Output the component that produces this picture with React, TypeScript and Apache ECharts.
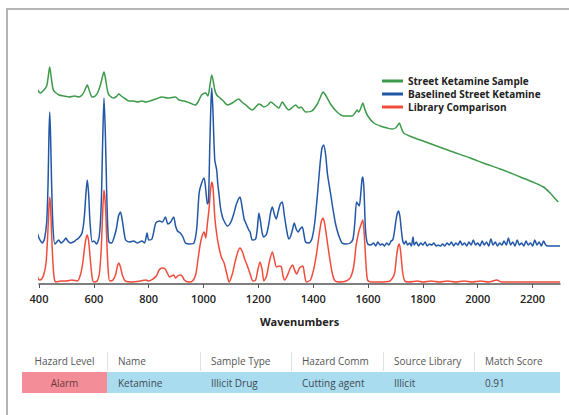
import React, { useEffect, useRef } from "react";
import * as echarts from "echarts";

// Raman spectra: [wavenumber (cm-1), stacked intensity]
const WAVE_TICKS = [400, 600, 800, 1000, 1200, 1400, 1600, 1800, 2000, 2200];

const SAMPLE: [number, number][] = [
  [382, 192], [390, 196], [400, 192], [406, 191], [418, 194], [428, 198], [434, 208], [439, 217], [444, 208],
  [451, 195], [458, 192], [473, 189], [490, 188], [510, 187], [530, 188], [545, 187], [557, 189], [566, 193],
  [576, 199], [584, 193], [594, 187], [605, 188], [615, 192], [625, 200], [632, 208], [637, 212], [642, 206],
  [650, 193], [655, 189], [673, 186], [684, 188], [691, 190], [700, 188], [716, 185], [728, 183], [745, 183],
  [760, 182], [775, 183], [790, 182], [805, 183], [826, 185], [849, 187], [870, 186], [898, 187], [910, 184],
  [930, 183], [950, 181], [970, 179], [980, 182], [993, 189], [1008, 191], [1016, 188], [1024, 200], [1030, 209],
  [1036, 202], [1041, 194], [1048, 189], [1056, 187], [1069, 184], [1087, 179], [1105, 181], [1128, 185],
  [1140, 182], [1154, 179], [1178, 174], [1190, 177], [1202, 180], [1210, 179], [1220, 177], [1235, 179],
  [1245, 182], [1260, 179], [1275, 176], [1287, 182], [1300, 177], [1311, 174], [1325, 177], [1336, 179],
  [1348, 176], [1356, 177], [1372, 172], [1395, 173], [1415, 180], [1428, 188], [1436, 192], [1445, 189],
  [1463, 180], [1487, 172], [1511, 168], [1530, 168], [1542, 168], [1555, 172], [1560, 174], [1566, 172],
  [1575, 177], [1581, 181], [1588, 175], [1599, 168], [1621, 161], [1645, 158], [1670, 156], [1688, 155],
  [1700, 156], [1709, 159], [1714, 161], [1720, 157], [1730, 151], [1760, 147], [1791, 144], [1850, 138],
  [1900, 133], [1973, 126], [2020, 121], [2082, 115], [2120, 111], [2155, 107], [2200, 102], [2240, 97],
  [2264, 91], [2280, 86], [2294, 82],
];

const BASELINED: [number, number][] = [
  [382, 42], [386, 50], [390, 56], [395, 50], [400, 46], [406, 43], [412, 41], [420, 45], [428, 62], [433, 100],
  [436, 145], [439, 172], [442, 150], [446, 100], [451, 57], [458, 40], [465, 42], [472, 44], [480, 41], [490, 43],
  [498, 46], [505, 43], [515, 41], [525, 42], [535, 44], [545, 46], [557, 51], [565, 66], [571, 90], [576, 104],
  [581, 90], [586, 62], [594, 42], [600, 43], [610, 40], [620, 48], [627, 80], [632, 140], [637, 186], [642, 150],
  [647, 90], [651, 55], [655, 42], [665, 41], [673, 46], [682, 55], [690, 68], [697, 72], [703, 65], [710, 52],
  [716, 44], [730, 42], [745, 43], [760, 41], [775, 43], [785, 41], [794, 51], [800, 44], [812, 45], [826, 61],
  [840, 63], [850, 62], [861, 67], [870, 60], [880, 62], [891, 67], [898, 58], [905, 53], [915, 51], [925, 47],
  [934, 41], [950, 40], [965, 41], [975, 55], [984, 91], [992, 100], [1002, 106], [1008, 95], [1014, 80],
  [1018, 82], [1023, 140], [1027, 180], [1030, 196], [1034, 175], [1041, 124], [1048, 114], [1052, 100],
  [1056, 91], [1062, 76], [1069, 67], [1075, 63], [1087, 58], [1100, 62], [1110, 70], [1120, 80], [1133, 87],
  [1140, 78], [1148, 65], [1154, 61], [1165, 54], [1170, 52], [1178, 44], [1190, 45], [1196, 55], [1202, 71],
  [1208, 62], [1214, 51], [1220, 47], [1230, 50], [1238, 60], [1245, 72], [1251, 77], [1258, 70], [1265, 65],
  [1272, 72], [1280, 80], [1287, 82], [1295, 68], [1305, 51], [1311, 45], [1318, 48], [1325, 55], [1331, 61],
  [1338, 55], [1345, 52], [1352, 55], [1360, 57], [1366, 50], [1372, 42], [1385, 41], [1395, 45], [1405, 60],
  [1415, 88], [1425, 120], [1432, 136], [1438, 139], [1445, 130], [1452, 110], [1463, 91], [1472, 75],
  [1480, 62], [1487, 54], [1495, 47], [1505, 41], [1520, 40], [1535, 41], [1545, 45], [1552, 62], [1558, 82],
  [1563, 80], [1568, 78], [1574, 92], [1578, 105], [1581, 107], [1585, 95], [1590, 57], [1594, 45], [1599, 40],
  [1610, 39], [1620, 41], [1628, 38], [1636, 42], [1644, 39], [1652, 40], [1660, 38], [1668, 41], [1676, 39],
  [1684, 43], [1690, 44], [1696, 52], [1702, 64], [1707, 71], [1711, 73], [1716, 68], [1721, 55], [1726, 44],
  [1732, 40], [1738, 43], [1744, 39], [1752, 41], [1758, 38], [1764, 47], [1768, 39], [1776, 42], [1784, 38],
  [1792, 41], [1800, 39], [1808, 42], [1816, 38], [1824, 40], [1832, 39], [1840, 41], [1848, 38], [1856, 39],
  [1864, 38], [1872, 40], [1880, 38], [1888, 41], [1896, 39], [1904, 42], [1912, 38], [1920, 41], [1928, 39],
  [1936, 43], [1944, 39], [1952, 41], [1960, 38], [1968, 42], [1976, 39], [1984, 44], [1992, 39], [2000, 41],
  [2008, 38], [2016, 43], [2024, 39], [2032, 42], [2040, 38], [2048, 45], [2056, 39], [2064, 42], [2072, 38],
  [2080, 41], [2088, 39], [2096, 43], [2104, 39], [2112, 46], [2120, 39], [2128, 42], [2136, 38], [2144, 44],
  [2152, 39], [2160, 41], [2168, 38], [2176, 43], [2184, 39], [2192, 41], [2200, 38], [2208, 44], [2216, 39],
  [2224, 42], [2232, 38], [2240, 43], [2248, 39], [2256, 38], [2300, 38],
];

const LIBRARY: [number, number][] = [
  [382, 2], [386, 6], [390, 11], [396, 6], [402, 4], [410, 5], [418, 10], [426, 22], [432, 50], [436, 75],
  [439, 87], [442, 78], [446, 50], [451, 20], [456, 5], [462, 2], [480, 3], [500, 3], [520, 4], [540, 3],
  [552, 10], [560, 22], [566, 36], [571, 45], [576, 49], [581, 43], [587, 25], [594, 6], [600, 2], [612, 3],
  [620, 10], [627, 35], [632, 70], [637, 94], [642, 80], [647, 45], [652, 15], [658, 3], [670, 4], [680, 10],
  [686, 18], [691, 21], [697, 17], [705, 8], [715, 3], [740, 2], [770, 3], [790, 4], [800, 3], [815, 5],
  [828, 8], [838, 14], [849, 16], [860, 15], [868, 11], [876, 7], [884, 8], [891, 9], [898, 6], [906, 8],
  [914, 9], [922, 8], [930, 4], [945, 2], [960, 3], [972, 10], [980, 25], [988, 40], [995, 48], [1002, 52],
  [1008, 46], [1014, 60], [1020, 75], [1026, 95], [1030, 102], [1035, 95], [1041, 67], [1048, 50], [1056, 37],
  [1065, 27], [1075, 21], [1085, 10], [1093, 2], [1105, 10], [1115, 22], [1125, 32], [1133, 36], [1142, 32],
  [1150, 25], [1160, 18], [1170, 10], [1180, 3], [1190, 4], [1198, 14], [1206, 22], [1214, 14], [1220, 3],
  [1230, 8], [1240, 22], [1251, 32], [1258, 25], [1266, 17], [1278, 18], [1284, 17], [1290, 8], [1296, 4],
  [1305, 8], [1315, 15], [1325, 19], [1332, 14], [1340, 10], [1350, 16], [1362, 18], [1368, 10], [1375, 2],
  [1390, 4], [1402, 15], [1412, 30], [1422, 50], [1430, 63], [1436, 66], [1442, 60], [1450, 45], [1460, 26],
  [1470, 10], [1480, 3], [1500, 2], [1520, 3], [1535, 6], [1548, 18], [1556, 38], [1560, 44], [1566, 52],
  [1575, 60], [1581, 64], [1586, 50], [1592, 22], [1598, 4], [1610, 2], [1640, 2], [1680, 3], [1696, 10],
  [1704, 28], [1710, 38], [1714, 40], [1719, 32], [1726, 12], [1734, 3], [1750, 2], [1780, 3], [1800, 2],
  [1830, 3], [1860, 2], [1890, 3], [1920, 2], [1950, 3], [1980, 2], [2010, 3], [2040, 2], [2070, 4], [2085, 2],
  [2300, 2],
];

const SERIES_NAMES = ["Street Ketamine Sample", "Baselined Street Ketamine", "Library Comparison"];
const SERIES_COLORS = ["#3d9a4a", "#2157a6", "#f04c3c"];

// Result table below the chart
const TABLE_HEADERS = ["Hazard Level", "Name", "Sample Type", "Hazard Comm", "Source Library", "Match Score"];
const TABLE_ROW = ["Alarm", "Ketamine", "Illicit Drug", "Cutting agent", "Illicit", "0.91"];

const FONT = "'Open Sans', 'Noto Sans', sans-serif";

export default function App() {
  const ref = useRef<HTMLDivElement>(null);

  useEffect(() => {
    if (!ref.current) return;
    const chart = echarts.init(ref.current, undefined, { renderer: "svg" });

    const colEdges = [22, 107, 200, 291, 383, 474, 560];
    const headerY = 361;
    const rowTop = 372;
    const rowH = 21;

    const graphics: any[] = [
      // panel frame
      { type: "line", silent: true, shape: { x1: 6, y1: 9, x2: 569, y2: 9 }, style: { stroke: "#b4b4b4", lineWidth: 2 } },
      { type: "line", silent: true, shape: { x1: 7, y1: 9, x2: 7, y2: 415 }, style: { stroke: "#b4b4b4", lineWidth: 2 } },
    ];

    TABLE_HEADERS.forEach((h, i) => {
      const left = colEdges[i];
      const right = colEdges[i + 1];
      graphics.push({
        type: "text",
        silent: true,
        x: i === 0 ? (left + right) / 2 : left + 11,
        y: headerY,
        style: { text: h, fill: "#555", fontSize: 10, fontFamily: FONT, align: i === 0 ? "center" : "left", verticalAlign: "middle" },
      });
      if (i > 0) {
        graphics.push({
          type: "line",
          silent: true,
          shape: { x1: left + 0.5, y1: 352, x2: left + 0.5, y2: 371 },
          style: { stroke: "#e2e2e2", lineWidth: 1 },
        });
      }
    });

    graphics.push({
      type: "rect",
      silent: true,
      shape: { x: colEdges[1], y: rowTop, width: colEdges[6] - colEdges[1], height: rowH },
      style: { fill: "#aadcf0" },
    });
    graphics.push({
      type: "rect",
      silent: true,
      shape: { x: colEdges[0], y: rowTop, width: colEdges[1] - colEdges[0], height: rowH },
      style: { fill: "#f38d97" },
    });
    TABLE_ROW.forEach((v, i) => {
      const left = colEdges[i];
      const right = colEdges[i + 1];
      graphics.push({
        type: "text",
        silent: true,
        x: i === 0 ? (left + right) / 2 : left + 11,
        y: rowTop + rowH / 2,
        style: { text: v, fill: i === 0 ? "#6b3a40" : "#3d4a52", fontSize: 10, fontFamily: FONT, align: i === 0 ? "center" : "left", verticalAlign: "middle" },
      });
    });

    const data = [SAMPLE, BASELINED, LIBRARY];

    chart.setOption({
      animation: false,
      backgroundColor: "#ffffff",
      grid: { left: 39, right: 9, top: 54, bottom: 131 },
      legend: {
        show: true,
        orient: "vertical",
        left: 382,
        top: 75,
        padding: 0,
        icon: "rect",
        itemWidth: 21,
        itemHeight: 3,
        itemGap: 1,
        selectedMode: false,
        textStyle: { fontSize: 10, fontWeight: "bold", fontFamily: FONT, color: "#222", lineHeight: 12 },
        data: SERIES_NAMES,
      },
      xAxis: {
        type: "value",
        min: 400,
        max: 2300,
        name: "Wavenumbers",
        nameLocation: "middle",
        nameGap: 32,
        nameTextStyle: { fontSize: 11, fontWeight: "bold", fontFamily: FONT, color: "#222" },
        splitLine: { show: false },
        axisLine: { show: true, lineStyle: { color: "#555", width: 1.5 } },
        axisTick: { show: true, customValues: WAVE_TICKS, length: 4, lineStyle: { color: "#555" } },
        axisLabel: {
          customValues: WAVE_TICKS,
          formatter: (v: number) => String(v),
          fontSize: 11,
          fontWeight: 600,
          fontFamily: FONT,
          color: "#222",
          margin: 9,
        },
      },
      yAxis: { type: "value", min: 0, max: 230, show: false },
      series: SERIES_NAMES.map((name, i) => ({
        name,
        type: "line",
        data: data[i],
        showSymbol: false,
        symbol: "none",
        smooth: 0.25,
        clip: false,
        silent: true,
        color: SERIES_COLORS[i],
        lineStyle: { color: SERIES_COLORS[i], width: 1.5 },
        z: 3 - i,
      })),
      graphic: graphics,
    });

    return () => chart.dispose();
  }, []);

  return (
    <div
      ref={ref}
      style={{ position: "absolute", left: 0, top: 0, width: 569, height: 415, background: "#fff" }}
    />
  );
}
